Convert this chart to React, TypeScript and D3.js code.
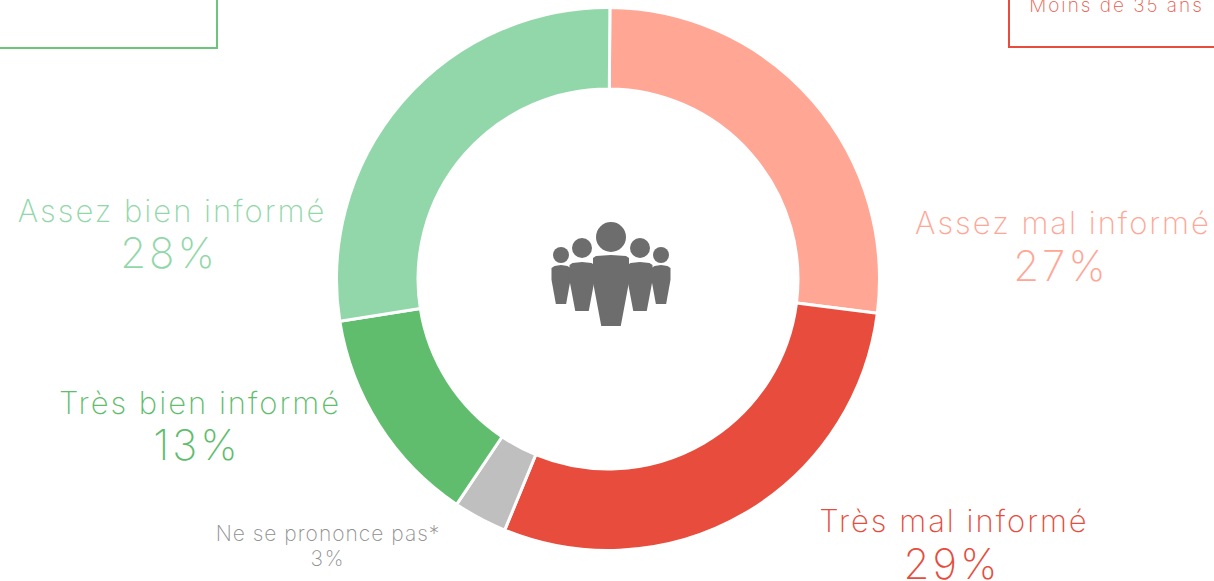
import React from "react";
import * as d3 from "d3";

const categories = ["Assez mal informé", "Très mal informé", "Ne se prononce pas*", "Très bien informé", "Assez bien informé"];
const sliceValues = [26.9, 29.2, 3.2, 13.1, 27.6];
const percentLabels = ["27%", "29%", "3%", "13%", "28%"];
const colors = ["#ffa695", "#e74c3c", "#bfbfbf", "#5fbd6d", "#92d7a9"];
const labelX = [1063, 954, 328, 200, 172];
const labelY = [234, 532, 541, 414, 222];
const pctX = [1061, 952, 328, 197, 169];
const pctY = [281, 579, 566, 460, 268];
const nameSizes = [31, 31, 21, 31, 31];
const pctSizes = [42, 42, 21, 42, 42];
const people = [
  { x: 561, headY: 255, headR: 8, top: 265, w: 19, h: 39 },
  { x: 582, headY: 248, headR: 10, top: 262, w: 25, h: 49 },
  { x: 611, headY: 237, headR: 15, top: 255, w: 36, h: 71 },
  { x: 640, headY: 248, headR: 10, top: 262, w: 25, h: 49 },
  { x: 661, headY: 255, headR: 8, top: 265, w: 19, h: 39 },
];

const FONT = "Inter, 'Open Sans', sans-serif";
const ROTATION = 0.007;

function personPath(p: { x: number; top: number; w: number; h: number }) {
  const hw = p.w / 2;
  const foot = p.w * 0.27;
  const line = d3.line<[number, number]>().curve(d3.curveLinear);
  return line([
    [p.x - hw + 3, p.top + 1],
    [p.x, p.top],
    [p.x + hw - 3, p.top + 1],
    [p.x + hw, p.top + 3],
    [p.x + hw, p.top + p.h * 0.38],
    [p.x + foot, p.top + p.h],
    [p.x - foot, p.top + p.h],
    [p.x - hw, p.top + p.h * 0.38],
    [p.x - hw, p.top + 3],
  ]) + "Z";
}

export default function App() {
  const pie = d3.pie<number>().sort(null).startAngle(ROTATION).endAngle(2 * Math.PI + ROTATION)(sliceValues);
  const arc = d3.arc<d3.PieArcDatum<number>>().innerRadius(190).outerRadius(271.5);
  return (
    <svg width={1214} height={581} style={{ position: "absolute", left: 0, top: 0, display: "block" }} fontFamily={FONT}>
      <rect width={1214} height={581} fill="#fff" />
      <rect x={-10} y={-40} width={227} height={88} fill="none" stroke="#6cc57a" strokeWidth={2} />
      <rect x={1009} y={-40} width={230} height={87} fill="none" stroke="#e74c3c" strokeWidth={2} />
      <text x={1116.5} y={12} textAnchor="middle" fontSize={19} fontWeight={200} letterSpacing={2} fill="#ea5a4c">Moins de 35 ans</text>
      <g transform="translate(608,279)">
        {pie.map((d, i) => (
          <path key={categories[i]} d={arc(d) ?? ""} fill={colors[i]} stroke="#fff" strokeWidth={3} />
        ))}
      </g>
      {people.map((p, i) => (
        <g key={i} fill="#6d6d6d">
          <circle cx={p.x} cy={p.headY} r={p.headR} />
          <path d={personPath(p)} />
        </g>
      ))}
      {categories.map((c, i) => (
        <g key={c} fill={i === 2 ? "#8f8f8f" : colors[i]} textAnchor="middle" fontWeight={200}>
          <text x={labelX[i]} y={labelY[i]} fontSize={nameSizes[i]} letterSpacing={i === 2 ? 1 : 2}>{c}</text>
          <text x={pctX[i]} y={pctY[i]} fontSize={pctSizes[i]} letterSpacing={i === 2 ? 2 : 3}>{percentLabels[i]}</text>
        </g>
      ))}
    </svg>
  );
}
